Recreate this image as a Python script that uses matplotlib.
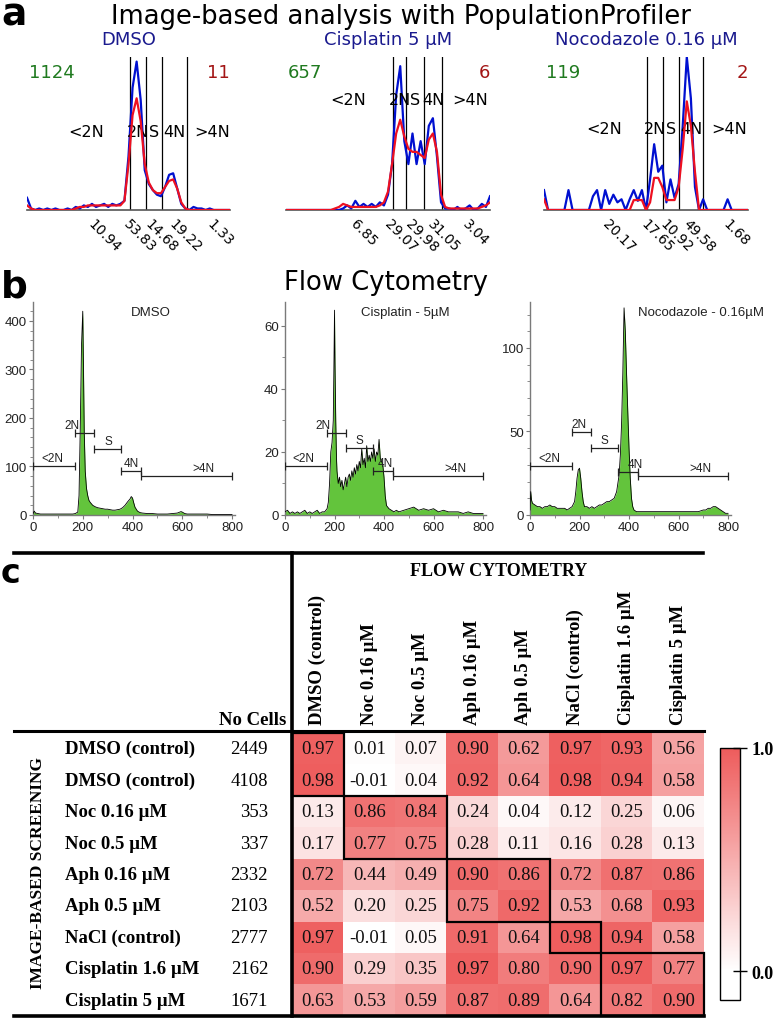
import numpy as np
import matplotlib
matplotlib.use("Agg")
import matplotlib.pyplot as plt
from matplotlib.colors import LinearSegmentedColormap, Normalize
from matplotlib.patches import Rectangle
from matplotlib.lines import Line2D
import matplotlib.transforms as mtransforms

# ---------------- DATA ----------------
# Panel a: PopulationProfiler histograms (normalised heights), bins 0..100
pp_titles = ["DMSO", "Cisplatin 5 µM", "Nocodazole 0.16 µM"]
pp_left_counts = ["1124", "657", "119"]
pp_right_counts = ["11", "6", "2"]
gate_names = ["<2N", "2N", "S", "4N", ">4N"]
pp_bins = list(range(0, 101, 2))

dmso_blue = [0.08, 0.01, 0.0, 0.01, 0.0, 0.01, 0.0, 0.01, 0.0, 0.0,
             0.01, 0.0, 0.02, 0.01, 0.03, 0.02, 0.04, 0.02, 0.03, 0.04,
             0.02, 0.04, 0.03, 0.04, 0.06, 0.35, 0.80, 0.97, 0.72, 0.26,
             0.17, 0.13, 0.10, 0.09, 0.15, 0.23, 0.24, 0.14, 0.04, 0.01,
             0.0, 0.02, 0.01, 0.01, 0.0, 0.01, 0.0, 0.0, 0.0, 0.0, 0.0]
dmso_red = [0.03, 0.01, 0.0, 0.0, 0.0, 0.0, 0.0, 0.0, 0.0, 0.0,
            0.0, 0.0, 0.01, 0.02, 0.02, 0.03, 0.03, 0.03, 0.03, 0.03,
            0.03, 0.03, 0.03, 0.03, 0.06, 0.30, 0.62, 0.73, 0.58, 0.30,
            0.18, 0.13, 0.11, 0.11, 0.15, 0.19, 0.20, 0.14, 0.05, 0.01,
            0.0, 0.0, 0.0, 0.0, 0.0, 0.0, 0.0, 0.0, 0.0, 0.0, 0.0]
cis_blue = [0.0, 0.0, 0.0, 0.0, 0.0, 0.0, 0.0, 0.0, 0.0, 0.0,
            0.0, 0.0, 0.0, 0.0, 0.01, 0.03, 0.01, 0.06, 0.02, 0.04,
            0.02, 0.04, 0.02, 0.05, 0.03, 0.10, 0.30, 0.75, 0.94, 0.45,
            0.30, 0.50, 0.30, 0.45, 0.30, 0.55, 0.60, 0.35, 0.05, 0.01,
            0.01, 0.0, 0.02, 0.0, 0.01, 0.03, 0.0, 0.01, 0.04, 0.02, 0.09]
cis_red = [0.0, 0.0, 0.0, 0.0, 0.0, 0.0, 0.0, 0.0, 0.0, 0.0,
           0.0, 0.0, 0.01, 0.02, 0.04, 0.03, 0.02, 0.02, 0.02, 0.02,
           0.02, 0.02, 0.02, 0.03, 0.05, 0.12, 0.30, 0.50, 0.59, 0.48,
           0.40, 0.38, 0.38, 0.36, 0.34, 0.46, 0.50, 0.38, 0.10, 0.02,
           0.01, 0.01, 0.01, 0.01, 0.01, 0.01, 0.01, 0.01, 0.02, 0.03, 0.05]
noc_blue = [0.13, 0.0, 0.0, 0.0, 0.0, 0.0, 0.13, 0.0, 0.0, 0.0,
            0.0, 0.0, 0.09, 0.13, 0.0, 0.13, 0.04, 0.10, 0.05, 0.07,
            0.0, 0.07, 0.13, 0.06, 0.13, 0.0, 0.20, 0.43, 0.25, 0.29,
            0.05, 0.20, 0.08, 0.17, 0.55, 1.0, 0.73, 0.15, 0.0, 0.07,
            0.0, 0.0, 0.0, 0.0, 0.0, 0.07, 0.0, 0.0, 0.0, 0.0, 0.0]
noc_red = [0.07, 0.0, 0.0, 0.0, 0.0, 0.0, 0.0, 0.0, 0.0, 0.0,
           0.0, 0.0, 0.0, 0.0, 0.0, 0.0, 0.0, 0.0, 0.0, 0.0,
           0.0, 0.0, 0.065, 0.065, 0.065, 0.0, 0.05, 0.21, 0.21, 0.15,
           0.065, 0.065, 0.065, 0.15, 0.40, 0.71, 0.55, 0.25, 0.0, 0.0,
           0.0, 0.0, 0.0, 0.0, 0.0, 0.0, 0.0, 0.0, 0.0, 0.0, 0.0]
pp_blue = [dmso_blue, cis_blue, noc_blue]
pp_red = [dmso_red, cis_red, noc_red]
pp_bounds = [[50.7, 58.6, 66.5, 78.8],
             [52.5, 58.8, 67.6, 76.5],
             [50.5, 58.3, 66.2, 77.9]]
pp_pcts = [["10.94", "53.83", "14.68", "19.22", "1.33"],
           ["6.85", "29.07", "29.98", "31.05", "3.04"],
           ["20.17", "17.65", "10.92", "49.58", "1.68"]]

# Panel b: flow cytometry histograms
fc_titles = ["DMSO", "Cisplatin - 5µM", "Nocodazole - 0.16µM"]
dmso_fx = [0, 5, 10, 20, 30, 40, 50, 60, 80, 100, 120, 140, 160, 170, 180, 185,
           190, 195, 200, 203, 206, 210, 215, 220, 225, 230, 240, 250, 260, 270, 280, 290,
           300, 310, 320, 330, 340, 350, 360, 370, 380, 390, 395, 400, 405, 410, 420, 430,
           440, 460, 480, 500, 520, 540, 560, 580, 590, 595, 600, 610, 620, 640, 660, 680,
           700, 720, 740, 760, 780, 800]
dmso_fy = [3, 8, 4, 3, 2, 2, 2, 2, 2, 2, 2, 2, 2, 3, 6, 40,
           180, 350, 420, 300, 170, 90, 55, 40, 30, 26, 20, 17, 15, 14, 13, 12,
           12, 11, 10, 10, 11, 12, 15, 20, 27, 33, 38, 35, 25, 16, 8, 5,
           4, 3, 3, 2, 2, 2, 3, 4, 6, 7, 6, 3, 2, 2, 2, 2,
           2, 1, 1, 1, 1, 1]
cis_fx = [0, 10, 20, 30, 40, 50, 60, 70, 80, 90, 100, 110, 120, 130, 140, 150,
          160, 170, 175, 180, 185, 190, 195, 198, 200, 202, 205, 208, 210, 215, 220, 225,
          230, 235, 240, 245, 250, 255, 260, 265, 270, 275, 280, 285, 290, 295, 300, 305,
          310, 315, 320, 325, 330, 335, 340, 345, 350, 355, 360, 365, 370, 375, 380, 385,
          390, 395, 400, 405, 410, 420, 430, 440, 450, 460, 480, 500, 520, 540, 560, 580,
          600, 620, 640, 660, 680, 700, 720, 740, 760, 780, 800]
cis_fy = [1, 1.5, 0.5, 1, 0.5, 1, 0.5, 1, 1.5, 0.5, 1, 0.5, 1, 1.5, 0.5, 1,
          1, 2, 4, 10, 20, 23, 30, 50, 65, 48, 30, 18, 14, 10, 12, 9,
          11, 8, 10, 12, 9, 12, 13, 11, 14, 12, 15, 13, 16, 14, 17, 15,
          21, 16, 18, 15, 22, 17, 19, 17, 20, 18, 21, 17, 20, 19, 24, 18,
          17, 16, 12, 6, 3, 2, 1.5, 1, 1.5, 1, 1.5, 2, 2.5, 1.5, 2, 1.5,
          2, 1, 1.5, 1, 1, 1, 0.5, 1, 0.5, 0.5, 0.5]
noc_fx = [0, 3, 6, 10, 20, 30, 40, 50, 60, 70, 80, 90, 100,
          110, 120, 130, 140, 150, 160, 170, 180,
          185, 190, 195, 200, 205, 210, 215, 220,
          230, 240, 250, 260, 270, 280, 290, 300,
          310, 320, 330, 340, 350, 360,
          365, 370, 375, 380, 385, 390, 395, 400,
          405, 410, 415, 420, 430, 440,
          460, 480, 500, 520, 540, 560, 580, 600,
          620, 640, 660, 680, 700,
          710, 720, 730, 740, 750, 760, 770, 780, 790, 800]
noc_fy = [3, 14, 9, 7, 6, 5, 5, 4, 5, 5, 6, 5, 5,
          4, 4, 4, 4, 3, 4, 5, 8,
          14, 22, 27, 28, 22, 14, 8, 5,
          5, 4, 5, 4, 5, 6, 6, 7,
          8, 8, 9, 10, 14, 24,
          36, 55, 85, 124, 110, 85, 62, 40,
          22, 10, 5, 3, 2, 2,
          2, 2, 2, 2, 2, 2, 2, 2,
          2, 2, 2, 2, 3,
          3, 4, 4, 5, 5, 4, 3, 2, 1, 1]
fc_x = [dmso_fx, cis_fx, noc_fx]
fc_y = [dmso_fy, cis_fy, noc_fy]
fc_ymax = [439, 67.6, 127.5]
fc_yticks = [[0, 100, 200, 300, 400], [0, 20, 40, 60], [0, 50, 100]]
fc_yminor = [20, 10, 10]
fc_gates = [[0, 170], [170, 245], [245, 355], [355, 435], [435, 800]]
fc_gate_y = [[101, 169, 136, 91, 80],
             [15.6, 26, 21.3, 14, 12.4],
             [29.3, 49.7, 40, 25.7, 23.5]]

# Panel c: correlation table
fc_cols = ["DMSO (control)", "Noc 0.16 µM", "Noc 0.5 µM", "Aph 0.16 µM",
           "Aph 0.5 µM", "NaCl (control)", "Cisplatin 1.6 µM", "Cisplatin 5 µM"]
ib_rows = ["DMSO (control)", "DMSO (control)", "Noc 0.16 µM", "Noc 0.5 µM",
           "Aph 0.16 µM", "Aph 0.5 µM", "NaCl (control)", "Cisplatin 1.6 µM",
           "Cisplatin 5 µM"]
n_cells = [2449, 4108, 353, 337, 2332, 2103, 2777, 2162, 1671]
corr = [
    [0.97, 0.01, 0.07, 0.90, 0.62, 0.97, 0.93, 0.56],
    [0.98, -0.01, 0.04, 0.92, 0.64, 0.98, 0.94, 0.58],
    [0.13, 0.86, 0.84, 0.24, 0.04, 0.12, 0.25, 0.06],
    [0.17, 0.77, 0.75, 0.28, 0.11, 0.16, 0.28, 0.13],
    [0.72, 0.44, 0.49, 0.90, 0.86, 0.72, 0.87, 0.86],
    [0.52, 0.20, 0.25, 0.75, 0.92, 0.53, 0.68, 0.93],
    [0.97, -0.01, 0.05, 0.91, 0.64, 0.98, 0.94, 0.58],
    [0.90, 0.29, 0.35, 0.97, 0.80, 0.90, 0.97, 0.77],
    [0.63, 0.53, 0.59, 0.87, 0.89, 0.64, 0.82, 0.90],
]
blocks = [(0, 1, 0, 0), (2, 3, 1, 2), (4, 5, 3, 4), (6, 6, 5, 5), (7, 8, 6, 7)]

# ---------------- LAYOUT ----------------
W, H = 780, 1020
fig = plt.figure(figsize=(W / 100, H / 100), dpi=100)


def ax_px(l, t, r, b):
    return fig.add_axes([l / W, 1 - b / H, (r - l) / W, (b - t) / H])


def fx(x):
    return x / W


def fy(y):
    return 1 - y / H


NAVY = "#1a1a8e"
GREEN = "#1f7a1f"
DRED = "#a31515"
SANS = "DejaVu Sans"
ARIAL = "Liberation Sans"
SERIF = "Liberation Serif"

# panel letters and titles
fig.text(fx(1), fy(26), "a", fontsize=27, fontweight="bold", family=SANS, va="baseline")
fig.text(fx(1), fy(297), "b", fontsize=27, fontweight="bold", family=SANS, va="baseline")
fig.text(fx(1), fy(583), "c", fontsize=24, fontweight="bold", family=SANS, va="baseline")
fig.text(fx(401), fy(17), "Image-based analysis with PopulationProfiler",
         fontsize=18.6, family=SANS, ha="center", va="center")
fig.text(fx(386), fy(283), "Flow Cytometry", fontsize=18.6, family=SANS,
         ha="center", va="center")

# ---- panel a ----
pa_rects = [(27, 58, 230, 211), (286, 58, 490, 211), (544, 58, 748, 211)]
pa_label_y = [0.51, 0.725, 0.53]
pa_pct_x = [[33.5, 51.2, 61.6, 73.4, 92.1],
            [35.3, 52.0, 62.3, 73.0, 90.2],
            [32.4, 51.0, 60.3, 71.6, 91.2]]
for i, rect in enumerate(pa_rects):
    ax = ax_px(*rect)
    ax.plot(pp_bins, pp_blue[i], color="#0010d0", lw=1.6, zorder=3)
    ax.plot(pp_bins, pp_red[i], color="#ee1020", lw=1.6, zorder=4)
    for b in pp_bounds[i]:
        ax.axvline(b, color="black", lw=0.9, zorder=2)
    ax.set_xlim(0, 100)
    ax.set_ylim(0, 1)
    for s in ["top", "right", "left"]:
        ax.spines[s].set_visible(False)
    ax.spines["bottom"].set_color("#555555")
    ax.spines["bottom"].set_linewidth(1.2)
    ax.set_xticks([])
    ax.set_yticks([])
    ax.patch.set_alpha(0)
    ax.text(0.5, 1.118, pp_titles[i], transform=ax.transAxes, ha="center",
            va="center", color=NAVY, fontsize=13, family=SANS)
    ax.text(0.01, 0.905, pp_left_counts[i], transform=ax.transAxes, ha="left",
            va="center", color=GREEN, fontsize=13, family=SANS)
    ax.text(1.0, 0.905, pp_right_counts[i], transform=ax.transAxes, ha="right",
            va="center", color=DRED, fontsize=13, family=SANS)
    edges = [8] + pp_bounds[i] + [104]
    tr = mtransforms.blended_transform_factory(ax.transData, ax.transAxes)
    for k, name in enumerate(gate_names):
        ax.text((edges[k] + edges[k + 1]) / 2, pa_label_y[i], name, transform=tr,
                ha="center", va="center", fontsize=11.5, family=SANS)
    for k, p in enumerate(pp_pcts[i]):
        ax.text(pa_pct_x[i][k], -0.04, p, transform=tr, rotation=-45,
                rotation_mode="anchor", ha="left", va="top", fontsize=10,
                family=SANS)

# ---- panel b ----
pb_rects = [(33, 303, 234.5, 516), (285, 303, 485.5, 516), (530, 303, 730.5, 516)]
pb_label_x = [[76, 155, 302, 394, 684],
              [73, 153, 300, 404, 687],
              [77, 198, 299, 424, 687]]
pb_title_pos = [(474, "center"), (485, "center"), (436, "left")]
for i, rect in enumerate(pb_rects):
    ax = ax_px(*rect)
    ax.fill_between(fc_x[i], fc_y[i], 0, color="#63c43c", lw=0, zorder=2)
    ax.plot(fc_x[i], fc_y[i], color="black", lw=0.6, zorder=3)
    ax.set_xlim(0, 810)
    ax.set_ylim(0, fc_ymax[i])
    for s in ["top", "right"]:
        ax.spines[s].set_visible(False)
    for s in ["left", "bottom"]:
        ax.spines[s].set_color("#7a7a7a")
        ax.spines[s].set_linewidth(1.0)
    ax.set_xticks([0, 200, 400, 600, 800])
    ax.set_xticks([100, 300, 500, 700], minor=True)
    ax.set_yticks(fc_yticks[i])
    ax.yaxis.set_minor_locator(matplotlib.ticker.MultipleLocator(fc_yminor[i]))
    ax.tick_params(which="both", color="#7a7a7a", labelsize=9.5, labelcolor="#222222",
                   pad=1.5)
    ax.tick_params(which="major", length=3)
    ax.tick_params(which="minor", length=2)
    for lab in ax.get_xticklabels() + ax.get_yticklabels():
        lab.set_family(ARIAL)
    ax.patch.set_alpha(0)
    for k, (g0, g1) in enumerate(fc_gates):
        gy = fc_gate_y[i][k]
        ax.errorbar((g0 + g1) / 2, gy, xerr=(g1 - g0) / 2, fmt="none",
                    ecolor="#222222", elinewidth=0.9, capsize=3, capthick=0.9,
                    zorder=4)
        ax.annotate(gate_names[k], (pb_label_x[i][k], gy), xytext=(0, 1.5),
                    textcoords="offset points", ha="center", va="bottom",
                    fontsize=8.5, family=ARIAL, color="#222222", zorder=5)
    tx, tha = pb_title_pos[i]
    tr = mtransforms.blended_transform_factory(ax.transData, ax.transAxes)
    ax.text(tx, 0.953, fc_titles[i], transform=tr, ha=tha, va="center",
            fontsize=9.5, family=ARIAL, color="#222222")

# ---- panel c ----
hx0, hy0, hx1, hy1 = 292, 734, 704, 1017
axh = ax_px(hx0, hy0, hx1, hy1)
vmin, vmax = -0.13, 1.0
cmap = LinearSegmentedColormap.from_list(
    "wr", [(0.0, "#ffffff"), (0.115, "#ffffff"), (1.0, "#ee5c5c")])
norm = Normalize(vmin=vmin, vmax=vmax)
corr_arr = np.array(corr)
im = axh.imshow(corr_arr, cmap=cmap, norm=norm, aspect="auto",
                interpolation="nearest")
axh.set_xlim(-0.5, len(fc_cols) - 0.5)
axh.set_ylim(len(ib_rows) - 0.5, -0.5)
axh.set_xticks([])
axh.set_yticks([])
for s in axh.spines.values():
    s.set_visible(False)
for r in range(len(ib_rows)):
    for c in range(len(fc_cols)):
        axh.text(c, r, f"{corr[r][c]:.2f}", ha="center", va="center",
                 fontsize=13.5, family=SERIF, color="#111111")
for (r0, r1, c0, c1) in blocks:
    axh.add_patch(Rectangle((c0 - 0.5, r0 - 0.5), c1 - c0 + 1, r1 - r0 + 1,
                            fill=False, lw=1.6, ec="black", clip_on=False,
                            zorder=5))
# column headers
for c, name in enumerate(fc_cols):
    axh.text(c, -0.79, name, rotation=90, ha="center", va="bottom",
             fontsize=13.5, fontweight="bold", family=SERIF)
# row labels and counts
trr = mtransforms.blended_transform_factory(fig.transFigure, axh.transData)
for r, name in enumerate(ib_rows):
    axh.text(fx(65), r, name, transform=trr, ha="left", va="center",
             fontsize=13.5, fontweight="bold", family=SERIF)
    axh.text(fx(268), r, f"{n_cells[r]}", transform=trr, ha="right",
             va="center", fontsize=13.5, family=SERIF)
fig.text(fx(286), fy(725), "No Cells", ha="right", va="baseline",
         fontsize=13.5, fontweight="bold", family=SERIF)
fig.text(fx(499), fy(571), "FLOW CYTOMETRY", ha="center", va="center",
         fontsize=13, fontweight="bold", family=SERIF)
fig.text(fx(38), fy(873), "IMAGE-BASED SCREENING", ha="center", va="center",
         rotation=90, fontsize=12.5, fontweight="bold", family=SERIF)

# table rules
for (x0, y0, x1, y1, lw) in [(14, 554, 703, 554, 2.6), (14, 732, 704, 732, 2.2),
                             (14, 1017, 704, 1017, 2.6), (292, 554, 292, 1017, 2.6)]:
    fig.add_artist(Line2D([fx(x0), fx(x1)], [fy(y0), fy(y1)], lw=lw,
                          color="black", transform=fig.transFigure))

# colorbar
cax = ax_px(720, 749, 740, 1001)
cb = fig.colorbar(im, cax=cax, ticks=[0.0, 1.0], format="%.1f")
cb.outline.set_linewidth(1.0)
cb.ax.tick_params(direction="inout", length=10, width=1.0, labelsize=13, pad=3)
for lab in cb.ax.get_yticklabels():
    lab.set_family(SERIF)
    lab.set_fontweight("bold")

fig.savefig("out.png", dpi=100)
